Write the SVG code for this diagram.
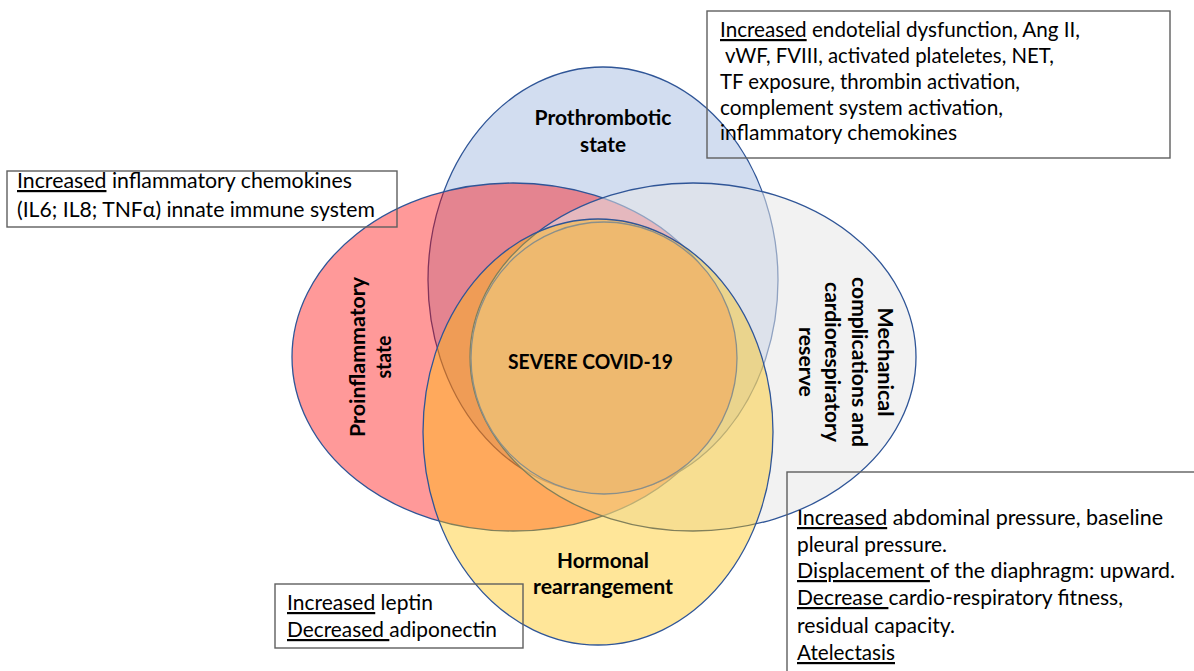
<svg xmlns="http://www.w3.org/2000/svg" width="1194" height="671" viewBox="0 0 1194 671">
<style>
.set{stroke:#2F5597;stroke-width:1.3}
.box{fill:none;stroke:#5F5F5F;stroke-width:1.4}
.t{font-family:Lato,"Liberation Sans",sans-serif;font-size:22px;fill:#000}
.b{font-family:Lato,"Liberation Sans",sans-serif;font-size:21.5px;font-weight:bold;fill:#000;text-anchor:middle}
.u{text-decoration:underline}
</style>
<rect width="1194" height="671" fill="#FFFFFF"/>
<g id="prothrombotic">
<ellipse class="set" cx="603" cy="280" rx="175" ry="213" fill="#D2DDF0"/>
</g>
<g id="proinflammatory">
<ellipse class="set" cx="513" cy="357" rx="221" ry="174" fill="#FF0000" fill-opacity="0.4"/>
</g>
<g id="mechanical">
<ellipse class="set" cx="693" cy="357" rx="223" ry="174" fill="#E6E6E6" fill-opacity="0.53"/>
</g>
<g id="hormonal">
<ellipse class="set" cx="598" cy="432" rx="175" ry="213" fill="#FFC000" fill-opacity="0.4"/>
</g>
<g id="severe">
<ellipse cx="604" cy="358" rx="133" ry="136" fill="#EEB96F" stroke="#8A8F8A" stroke-width="1.3"/>
<text class="b" x="590.5" y="369" textLength="165" lengthAdjust="spacingAndGlyphs">SEVERE COVID-19</text>
</g>
<g id="labels">
<text class="b" x="603" y="125" textLength="137" lengthAdjust="spacingAndGlyphs">Prothrombotic</text>
<text class="b" x="603" y="152" textLength="46" lengthAdjust="spacingAndGlyphs">state</text>
<text class="b" x="603" y="568" textLength="92" lengthAdjust="spacingAndGlyphs">Hormonal</text>
<text class="b" x="603" y="594" textLength="140" lengthAdjust="spacingAndGlyphs">rearrangement</text>
<g transform="translate(365,357) rotate(-90)">
<text class="b" x="0" y="0" textLength="160" lengthAdjust="spacingAndGlyphs">Proinflammatory</text>
<text class="b" x="0" y="26" textLength="43" lengthAdjust="spacingAndGlyphs">state</text>
</g>
<g transform="translate(878,362) rotate(90)">
<text class="b" x="0" y="0" textLength="109" lengthAdjust="spacingAndGlyphs">Mechanical</text>
<text class="b" x="0" y="26.5" textLength="170" lengthAdjust="spacingAndGlyphs">complications and</text>
<text class="b" x="0" y="53" textLength="160" lengthAdjust="spacingAndGlyphs">cardiorespiratory</text>
<text class="b" x="0" y="79.5" textLength="70" lengthAdjust="spacingAndGlyphs">reserve</text>
</g>
</g>
<g id="box-prothrombotic">
<rect class="box" x="707" y="11" width="463" height="147"/>
<text class="t" x="720" y="37" textLength="360" lengthAdjust="spacingAndGlyphs"><tspan class="u">Increased</tspan> endotelial dysfunction, Ang II,</text>
<text class="t" x="725" y="63" textLength="329" lengthAdjust="spacingAndGlyphs">vWF, FVIII, activated plateletes, NET,</text>
<text class="t" x="720" y="89" textLength="300" lengthAdjust="spacingAndGlyphs">TF exposure, thrombin activation,</text>
<text class="t" x="720" y="115" textLength="283" lengthAdjust="spacingAndGlyphs">complement system activation,</text>
<text class="t" x="720" y="140" textLength="237" lengthAdjust="spacingAndGlyphs">inflammatory chemokines</text>
</g>
<g id="box-proinflammatory">
<rect class="box" x="7" y="171" width="390" height="56"/>
<text class="t" x="17" y="188" textLength="335" lengthAdjust="spacingAndGlyphs"><tspan class="u">Increased</tspan> inflammatory chemokines</text>
<text class="t" x="17" y="217" textLength="358" lengthAdjust="spacingAndGlyphs">(IL6; IL8; TNFα) innate immune system</text>
</g>
<g id="box-hormonal">
<rect class="box" x="275" y="584" width="248" height="64"/>
<text class="t" x="287" y="610" textLength="146" lengthAdjust="spacingAndGlyphs"><tspan class="u">Increased</tspan> leptin</text>
<text class="t" x="287" y="637" textLength="210" lengthAdjust="spacingAndGlyphs"><tspan class="u">Decreased </tspan>adiponectin</text>
</g>
<g id="box-mechanical">
<rect class="box" x="787" y="472" width="420" height="220"/>
<text class="t" x="797" y="525" textLength="366" lengthAdjust="spacingAndGlyphs"><tspan class="u">Increased</tspan> abdominal pressure, baseline</text>
<text class="t" x="797" y="552" textLength="150" lengthAdjust="spacingAndGlyphs">pleural pressure.</text>
<text class="t" x="797" y="578" textLength="378" lengthAdjust="spacingAndGlyphs"><tspan class="u">Displacement </tspan>of the diaphragm: upward.</text>
<text class="t" x="797" y="605" textLength="326" lengthAdjust="spacingAndGlyphs"><tspan class="u">Decrease </tspan>cardio-respiratory fitness,</text>
<text class="t" x="797" y="633" textLength="158" lengthAdjust="spacingAndGlyphs">residual capacity.</text>
<text class="t" x="797" y="660" textLength="98" lengthAdjust="spacingAndGlyphs"><tspan class="u">Atelectasis</tspan></text>
</g>
<g id="connectors"></g>
</svg>
